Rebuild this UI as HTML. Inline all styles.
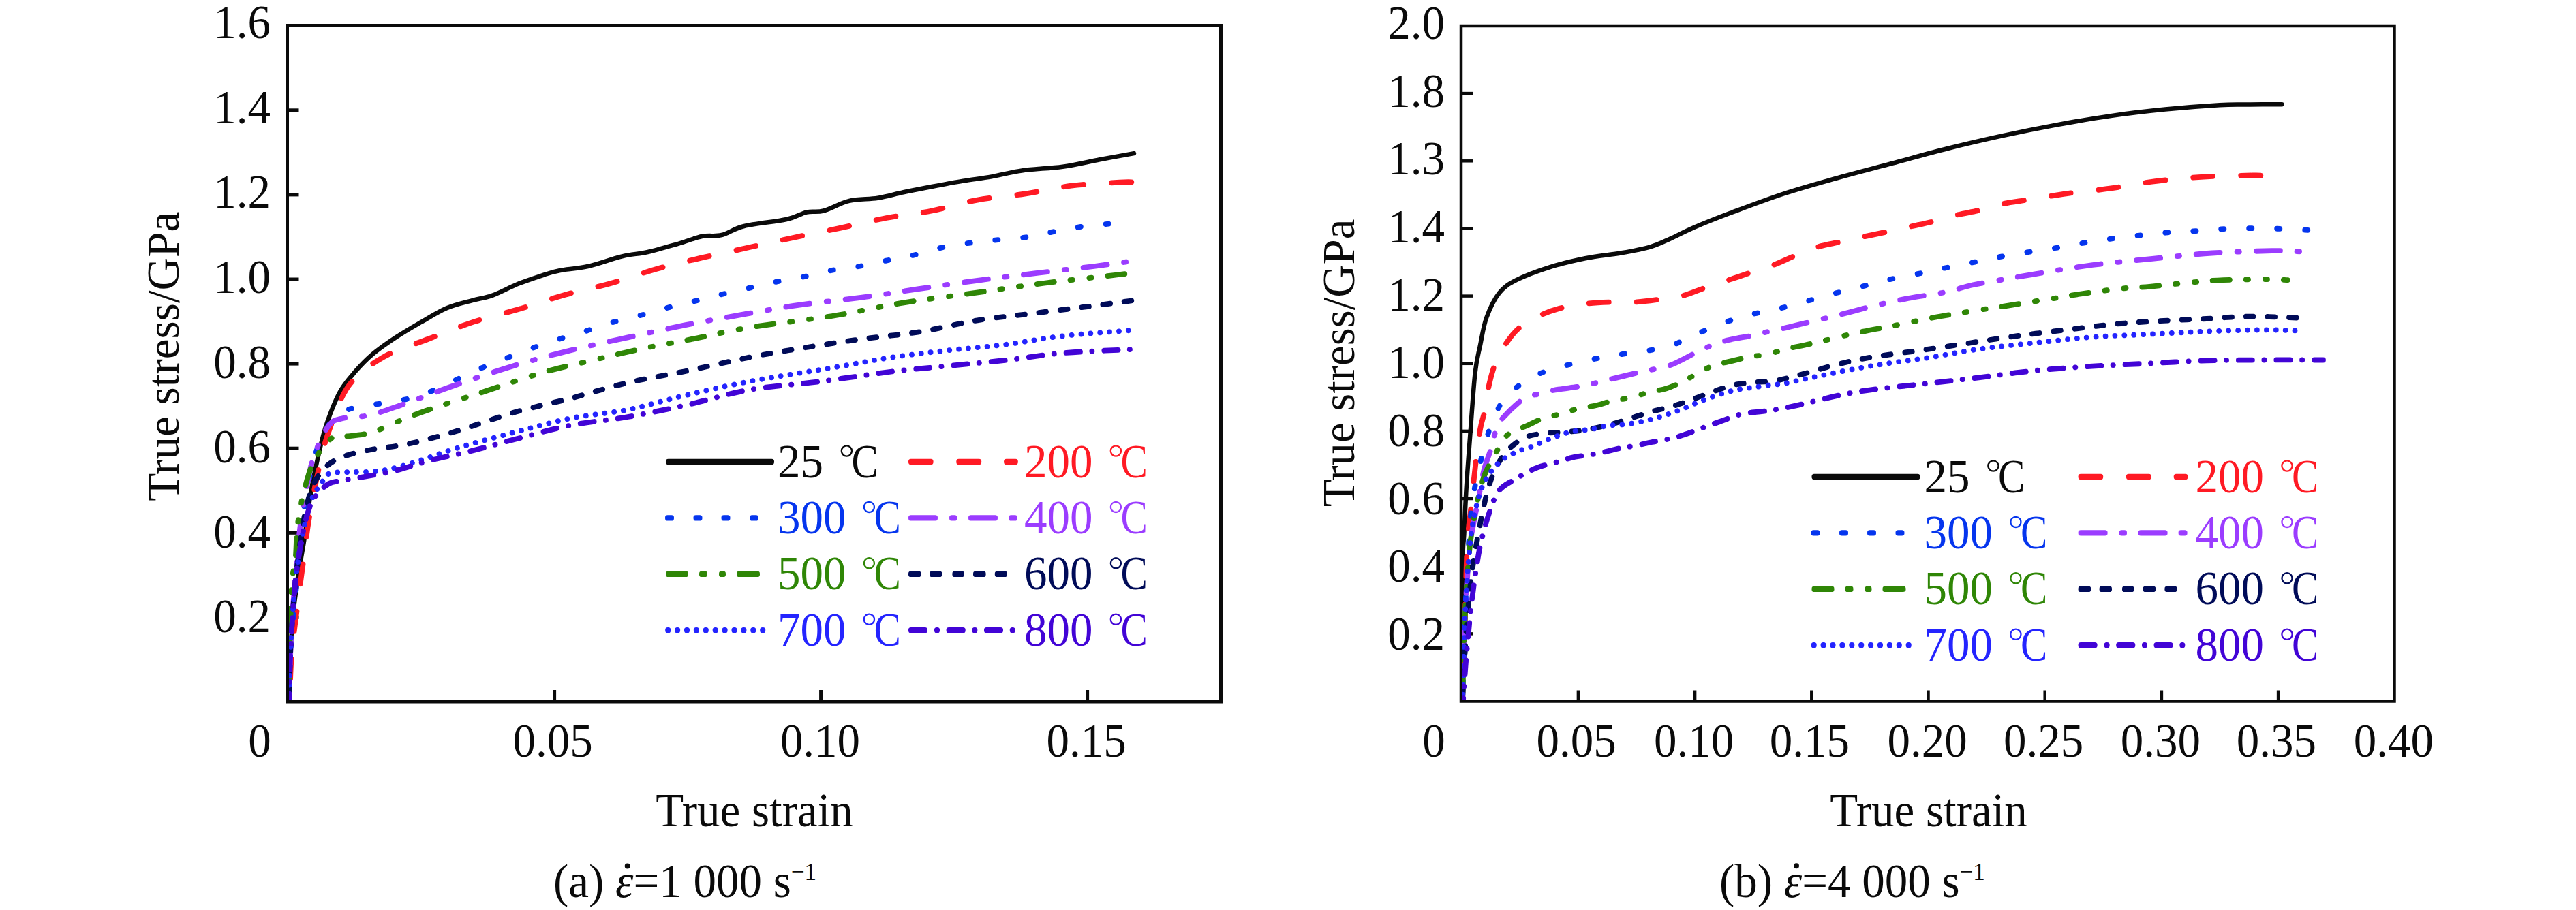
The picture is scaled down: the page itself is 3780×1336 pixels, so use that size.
<!DOCTYPE html>
<html><head><meta charset="utf-8"><style>
html,body{margin:0;padding:0;background:#fff;}
body{width:3780px;height:1336px;overflow:hidden;}
svg{display:block;font-family:"Liberation Serif", serif;}
</style></head><body>
<svg width="3780" height="1336" viewBox="0 0 3780 1336">
<rect width="3780" height="1336" fill="#fff"/>
<rect x="421.5" y="37.5" width="1370.0" height="992.5" fill="none" stroke="#0a0a0a" stroke-width="5"/>
<line x1="421.5" y1="906.4" x2="438.5" y2="906.4" stroke="#0a0a0a" stroke-width="5"/>
<line x1="421.5" y1="782.3" x2="438.5" y2="782.3" stroke="#0a0a0a" stroke-width="5"/>
<line x1="421.5" y1="658.2" x2="438.5" y2="658.2" stroke="#0a0a0a" stroke-width="5"/>
<line x1="421.5" y1="534.1" x2="438.5" y2="534.1" stroke="#0a0a0a" stroke-width="5"/>
<line x1="421.5" y1="410.0" x2="438.5" y2="410.0" stroke="#0a0a0a" stroke-width="5"/>
<line x1="421.5" y1="285.9" x2="438.5" y2="285.9" stroke="#0a0a0a" stroke-width="5"/>
<line x1="421.5" y1="161.8" x2="438.5" y2="161.8" stroke="#0a0a0a" stroke-width="5"/>
<line x1="813.6" y1="1030" x2="813.6" y2="1013" stroke="#0a0a0a" stroke-width="5"/>
<line x1="1204.6" y1="1030" x2="1204.6" y2="1013" stroke="#0a0a0a" stroke-width="5"/>
<line x1="1595.6" y1="1030" x2="1595.6" y2="1013" stroke="#0a0a0a" stroke-width="5"/>
<text x="397.0" y="0" transform="translate(0,928.4) scale(1,1.04)" text-anchor="end" fill="#0a0a0a" font-size="67" >0.2</text>
<text x="397.0" y="0" transform="translate(0,803.8) scale(1,1.04)" text-anchor="end" fill="#0a0a0a" font-size="67" >0.4</text>
<text x="397.0" y="0" transform="translate(0,679.2) scale(1,1.04)" text-anchor="end" fill="#0a0a0a" font-size="67" >0.6</text>
<text x="397.0" y="0" transform="translate(0,554.6) scale(1,1.04)" text-anchor="end" fill="#0a0a0a" font-size="67" >0.8</text>
<text x="397.0" y="0" transform="translate(0,430.0) scale(1,1.04)" text-anchor="end" fill="#0a0a0a" font-size="67" >1.0</text>
<text x="397.0" y="0" transform="translate(0,305.4) scale(1,1.04)" text-anchor="end" fill="#0a0a0a" font-size="67" >1.2</text>
<text x="397.0" y="0" transform="translate(0,180.8) scale(1,1.04)" text-anchor="end" fill="#0a0a0a" font-size="67" >1.4</text>
<text x="397.0" y="0" transform="translate(0,56.2) scale(1,1.04)" text-anchor="end" fill="#0a0a0a" font-size="67" >1.6</text>
<text x="381.0" y="0" transform="translate(0,1111.0) scale(1,1.04)" text-anchor="middle" fill="#0a0a0a" font-size="67" >0</text>
<text x="811.2" y="0" transform="translate(0,1111.0) scale(1,1.04)" text-anchor="middle" fill="#0a0a0a" font-size="67" >0.05</text>
<text x="1203.5" y="0" transform="translate(0,1111.0) scale(1,1.04)" text-anchor="middle" fill="#0a0a0a" font-size="67" >0.10</text>
<text x="1594.1" y="0" transform="translate(0,1111.0) scale(1,1.04)" text-anchor="middle" fill="#0a0a0a" font-size="67" >0.15</text>
<text x="1107.0" y="0" transform="translate(0,1213.0) scale(1,1.04)" text-anchor="middle" fill="#0a0a0a" font-size="67" >True strain</text>
<text x="0" y="0" transform="translate(261.5,523.2) rotate(-90)" text-anchor="middle" fill="#0a0a0a" font-size="67.2">True stress/GPa</text>
<rect x="2144.0" y="38.0" width="1369.5" height="991.5" fill="none" stroke="#0a0a0a" stroke-width="4.5"/>
<line x1="2144" y1="930.4" x2="2161" y2="930.4" stroke="#0a0a0a" stroke-width="4.5"/>
<line x1="2144" y1="831.2" x2="2161" y2="831.2" stroke="#0a0a0a" stroke-width="4.5"/>
<line x1="2144" y1="732.0" x2="2161" y2="732.0" stroke="#0a0a0a" stroke-width="4.5"/>
<line x1="2144" y1="632.9" x2="2161" y2="632.9" stroke="#0a0a0a" stroke-width="4.5"/>
<line x1="2144" y1="533.8" x2="2161" y2="533.8" stroke="#0a0a0a" stroke-width="4.5"/>
<line x1="2144" y1="434.6" x2="2161" y2="434.6" stroke="#0a0a0a" stroke-width="4.5"/>
<line x1="2144" y1="335.4" x2="2161" y2="335.4" stroke="#0a0a0a" stroke-width="4.5"/>
<line x1="2144" y1="236.3" x2="2161" y2="236.3" stroke="#0a0a0a" stroke-width="4.5"/>
<line x1="2144" y1="137.1" x2="2161" y2="137.1" stroke="#0a0a0a" stroke-width="4.5"/>
<line x1="2315.9" y1="1029.5" x2="2315.9" y2="1013.5" stroke="#0a0a0a" stroke-width="4.5"/>
<line x1="2487.1" y1="1029.5" x2="2487.1" y2="1013.5" stroke="#0a0a0a" stroke-width="4.5"/>
<line x1="2658.3" y1="1029.5" x2="2658.3" y2="1013.5" stroke="#0a0a0a" stroke-width="4.5"/>
<line x1="2829.5" y1="1029.5" x2="2829.5" y2="1013.5" stroke="#0a0a0a" stroke-width="4.5"/>
<line x1="3000.7" y1="1029.5" x2="3000.7" y2="1013.5" stroke="#0a0a0a" stroke-width="4.5"/>
<line x1="3171.9" y1="1029.5" x2="3171.9" y2="1013.5" stroke="#0a0a0a" stroke-width="4.5"/>
<line x1="3343.1" y1="1029.5" x2="3343.1" y2="1013.5" stroke="#0a0a0a" stroke-width="4.5"/>
<text x="2120.0" y="0" transform="translate(0,954.0) scale(1,1.04)" text-anchor="end" fill="#0a0a0a" font-size="67" >0.2</text>
<text x="2120.0" y="0" transform="translate(0,854.3) scale(1,1.04)" text-anchor="end" fill="#0a0a0a" font-size="67" >0.4</text>
<text x="2120.0" y="0" transform="translate(0,754.6) scale(1,1.04)" text-anchor="end" fill="#0a0a0a" font-size="67" >0.6</text>
<text x="2120.0" y="0" transform="translate(0,655.0) scale(1,1.04)" text-anchor="end" fill="#0a0a0a" font-size="67" >0.8</text>
<text x="2120.0" y="0" transform="translate(0,555.3) scale(1,1.04)" text-anchor="end" fill="#0a0a0a" font-size="67" >1.0</text>
<text x="2120.0" y="0" transform="translate(0,455.6) scale(1,1.04)" text-anchor="end" fill="#0a0a0a" font-size="67" >1.2</text>
<text x="2120.0" y="0" transform="translate(0,355.9) scale(1,1.04)" text-anchor="end" fill="#0a0a0a" font-size="67" >1.4</text>
<text x="2120.0" y="0" transform="translate(0,256.2) scale(1,1.04)" text-anchor="end" fill="#0a0a0a" font-size="67" >1.3</text>
<text x="2120.0" y="0" transform="translate(0,156.6) scale(1,1.04)" text-anchor="end" fill="#0a0a0a" font-size="67" >1.8</text>
<text x="2120.0" y="0" transform="translate(0,56.9) scale(1,1.04)" text-anchor="end" fill="#0a0a0a" font-size="67" >2.0</text>
<text x="2104.0" y="0" transform="translate(0,1111.0) scale(1,1.04)" text-anchor="middle" fill="#0a0a0a" font-size="67" >0</text>
<text x="2313.1" y="0" transform="translate(0,1111.0) scale(1,1.04)" text-anchor="middle" fill="#0a0a0a" font-size="67" >0.05</text>
<text x="2485.7" y="0" transform="translate(0,1111.0) scale(1,1.04)" text-anchor="middle" fill="#0a0a0a" font-size="67" >0.10</text>
<text x="2655.5" y="0" transform="translate(0,1111.0) scale(1,1.04)" text-anchor="middle" fill="#0a0a0a" font-size="67" >0.15</text>
<text x="2828.1" y="0" transform="translate(0,1111.0) scale(1,1.04)" text-anchor="middle" fill="#0a0a0a" font-size="67" >0.20</text>
<text x="2998.7" y="0" transform="translate(0,1111.0) scale(1,1.04)" text-anchor="middle" fill="#0a0a0a" font-size="67" >0.25</text>
<text x="3170.4" y="0" transform="translate(0,1111.0) scale(1,1.04)" text-anchor="middle" fill="#0a0a0a" font-size="67" >0.30</text>
<text x="3340.3" y="0" transform="translate(0,1111.0) scale(1,1.04)" text-anchor="middle" fill="#0a0a0a" font-size="67" >0.35</text>
<text x="3512.5" y="0" transform="translate(0,1111.0) scale(1,1.04)" text-anchor="middle" fill="#0a0a0a" font-size="67" >0.40</text>
<text x="2830.0" y="0" transform="translate(0,1212.5) scale(1,1.04)" text-anchor="middle" fill="#0a0a0a" font-size="67" >True strain</text>
<text x="0" y="0" transform="translate(1987,532.9) rotate(-90)" text-anchor="middle" fill="#0a0a0a" font-size="66.8">True stress/GPa</text>
<defs><clipPath id="ca"><rect x="424" y="40" width="1365" height="988"/></clipPath><clipPath id="cb"><rect x="2146" y="40" width="1365" height="988"/></clipPath></defs>
<path d="M1664.0,225.1 C1655.6,226.6 1631.2,231.0 1613.8,234.3 C1596.4,237.6 1578.3,242.0 1559.5,244.7 C1540.7,247.3 1518.4,247.8 1501.0,250.2 C1483.6,252.6 1469.6,256.8 1455.0,259.4 C1440.4,262.0 1427.9,263.2 1413.3,265.6 C1398.7,268.0 1381.9,271.2 1367.3,274.0 C1352.7,276.8 1338.8,279.5 1325.6,282.3 C1312.4,285.1 1301.2,288.6 1288.0,290.7 C1274.8,292.8 1259.4,291.8 1246.2,294.9 C1233.0,298.0 1219.0,306.7 1208.6,309.5 C1198.1,312.3 1192.5,309.5 1183.5,311.6 C1174.5,313.7 1169.5,318.6 1154.3,322.0 C1139.0,325.4 1107.9,328.2 1092.0,332.0 C1076.1,335.8 1069.3,342.5 1059.0,345.0 C1048.7,347.5 1040.4,344.9 1030.0,347.0 C1019.6,349.1 1009.6,353.7 996.4,357.5 C983.1,361.3 964.4,366.9 950.5,370.0 C936.6,373.1 927.5,372.8 912.9,376.3 C898.3,379.8 878.1,387.5 862.8,391.0 C847.5,394.5 831.9,395.1 821.0,397.2 C810.1,399.3 807.7,400.4 797.6,403.7 C787.5,407.0 772.7,411.8 760.2,416.8 C747.7,421.8 734.0,429.6 722.8,433.6 C711.6,437.7 704.2,438.0 693.0,441.1 C681.8,444.2 668.1,447.0 655.6,452.3 C643.1,457.6 630.7,465.6 618.2,472.8 C605.8,480.0 592.7,487.5 580.9,495.3 C569.1,503.1 557.3,511.1 547.3,519.5 C537.3,527.9 529.2,536.4 521.1,545.7 C513.0,555.1 505.6,563.2 498.7,575.6 C491.8,588.0 485.0,606.1 480.0,620.4 C475.0,634.7 472.8,644.1 468.8,661.5 C464.8,678.9 459.4,704.0 455.8,725.0 C452.2,746.0 449.7,770.6 447.2,787.3 C444.7,804.0 442.8,812.9 440.9,825.0 C438.9,837.1 437.2,847.5 435.5,860.0 C433.8,872.5 432.0,883.3 430.4,900.0 C428.8,916.7 427.0,938.7 426.0,960.0 C425.0,981.3 424.6,1016.7 424.3,1028.0" fill="none" stroke="#0a0a0a" stroke-width="6.5" stroke-linecap="round" stroke-linejoin="round" clip-path="url(#ca)"/>
<path d="M1664.0,267.5 C1660.5,267.5 1658.3,266.8 1643.0,267.7 C1627.7,268.6 1595.0,269.9 1572.0,272.7 C1549.0,275.5 1528.2,280.9 1505.2,284.4 C1482.2,287.9 1457.2,289.4 1434.2,293.6 C1411.2,297.8 1389.6,305.1 1367.3,309.5 C1345.0,313.9 1322.8,315.8 1300.5,320.0 C1278.2,324.2 1256.7,329.7 1233.7,334.6 C1210.7,339.5 1185.5,344.3 1162.7,349.2 C1139.9,354.1 1118.8,358.9 1096.7,363.8 C1074.6,368.7 1052.2,373.2 1029.9,378.4 C1007.6,383.6 985.3,388.7 963.0,395.0 C940.7,401.3 918.5,409.7 896.2,416.0 C873.9,422.3 851.7,426.4 829.4,432.7 C807.1,439.0 784.8,447.0 762.5,453.6 C740.2,460.2 718.0,465.1 695.7,472.4 C673.4,479.7 651.2,488.8 628.9,497.5 C606.6,506.2 581.5,513.2 562.0,524.6 C542.5,536.0 525.1,548.0 511.9,566.0 C498.7,584.0 490.0,612.6 482.7,632.8 C475.4,653.0 472.9,665.4 468.0,687.0 C463.1,708.6 457.2,739.3 453.4,762.3 C449.6,785.3 447.8,804.1 445.0,825.0 C442.2,845.9 439.5,864.8 436.7,887.6 C433.9,910.4 429.9,938.3 428.0,961.7 C426.1,985.1 425.5,1017.0 425.0,1028.0" fill="none" stroke="#ff1a24" stroke-width="7.8" stroke-linecap="round" stroke-linejoin="round" stroke-dasharray="29.20 40.80" stroke-dashoffset="-3.90" clip-path="url(#ca)"/>
<path d="M1630.5,328.3 C1623.5,329.0 1602.6,330.6 1588.7,332.5 C1574.8,334.4 1560.6,337.4 1547.0,340.0 C1533.4,342.6 1520.9,346.0 1507.3,348.0 C1493.7,350.0 1479.1,350.6 1465.5,352.0 C1451.9,353.4 1439.4,354.5 1425.8,356.3 C1412.2,358.1 1397.9,360.0 1384.0,363.0 C1370.1,366.0 1356.2,370.9 1342.3,374.2 C1328.4,377.5 1314.1,379.8 1300.5,382.6 C1286.9,385.4 1274.4,388.6 1260.8,391.0 C1247.2,393.4 1232.9,394.6 1219.0,397.2 C1205.1,399.8 1190.9,404.0 1177.3,406.8 C1163.7,409.6 1151.0,411.2 1137.6,414.0 C1124.2,416.8 1110.1,420.4 1096.7,423.5 C1083.3,426.6 1070.6,429.4 1057.0,432.7 C1043.4,436.0 1028.8,439.8 1015.2,443.2 C1001.6,446.6 988.7,449.3 975.5,452.8 C962.3,456.3 949.5,460.4 935.9,464.0 C922.3,467.6 907.6,470.5 894.0,474.5 C880.4,478.5 867.6,483.6 854.4,487.8 C841.2,492.0 827.9,495.2 814.7,499.5 C801.5,503.8 787.9,508.5 775.0,513.3 C762.1,518.1 750.0,523.2 737.5,528.2 C725.0,533.2 712.8,537.6 699.9,543.2 C687.0,548.8 673.1,555.9 660.2,561.8 C647.3,567.7 635.5,574.0 622.6,578.5 C609.7,583.0 596.5,586.2 582.9,589.0 C569.3,591.8 554.7,592.4 541.1,595.2 C527.5,598.0 512.6,598.6 501.5,605.6 C490.4,612.6 481.6,623.4 474.3,637.0 C467.0,650.6 462.5,667.5 457.6,687.0 C452.7,706.5 448.8,725.2 445.0,754.0 C441.2,782.8 438.0,827.3 435.0,860.0 C432.0,892.7 428.8,922.0 427.0,950.0 C425.2,978.0 424.5,1015.0 424.0,1028.0" fill="none" stroke="#0535ee" stroke-width="7.8" stroke-linecap="round" stroke-linejoin="round" stroke-dasharray="4.20 36.80" stroke-dashoffset="-3.90" clip-path="url(#ca)"/>
<path d="M1656.0,384.0 C1647.6,385.2 1628.5,388.1 1605.4,391.0 C1582.4,393.9 1546.2,397.9 1517.7,401.4 C1489.2,404.9 1462.8,408.0 1434.2,411.8 C1405.7,415.6 1374.9,420.2 1346.4,424.4 C1317.9,428.6 1291.5,433.1 1263.0,436.9 C1234.5,440.7 1202.4,443.5 1175.2,447.3 C1148.0,451.1 1128.4,454.9 1100.0,459.9 C1071.6,464.9 1034.6,471.5 1004.8,477.4 C975.0,483.3 949.1,489.3 921.3,495.4 C893.4,501.5 865.6,507.3 837.7,514.2 C809.8,521.1 782.5,528.4 754.0,537.0 C725.5,545.6 694.2,556.3 666.4,566.0 C638.6,575.7 607.9,587.9 587.0,595.2 C566.1,602.5 554.9,606.7 541.0,609.8 C527.1,612.9 513.2,611.6 503.5,614.0 C493.8,616.4 489.6,615.7 482.7,624.4 C475.8,633.1 467.0,652.3 461.8,666.2 C456.6,680.1 454.8,690.6 451.3,708.0 C447.8,725.4 443.9,746.9 440.9,770.6 C437.8,794.3 435.3,821.8 433.0,850.0 C430.7,878.2 428.5,910.3 427.0,940.0 C425.5,969.7 424.5,1013.3 424.0,1028.0" fill="none" stroke="#9b3cff" stroke-width="7.8" stroke-linecap="round" stroke-linejoin="round" stroke-dasharray="35.20 24.80 3.20 24.80" stroke-dashoffset="56.10" clip-path="url(#ca)"/>
<path d="M1654.0,401.5 C1651.5,401.8 1659.4,401.1 1638.8,403.5 C1618.2,405.9 1565.7,411.5 1530.2,416.0 C1494.7,420.5 1460.6,425.7 1425.8,430.6 C1391.0,435.5 1355.5,439.6 1321.4,445.2 C1287.3,450.8 1257.9,458.1 1221.0,464.0 C1184.1,469.9 1134.7,475.1 1100.0,480.8 C1065.3,486.5 1039.3,493.1 1013.0,498.3 C986.7,503.5 965.7,506.9 942.0,512.0 C918.3,517.0 895.3,522.8 871.0,528.6 C846.7,534.4 822.4,539.4 796.0,547.0 C769.6,554.6 738.2,565.9 712.4,574.3 C686.6,582.7 660.9,590.7 641.4,597.3 C621.9,603.9 611.4,607.7 595.4,614.0 C579.4,620.3 560.6,630.4 545.3,634.9 C530.0,639.4 513.2,639.7 503.5,641.1 C493.8,642.5 493.8,637.6 486.8,643.2 C479.9,648.8 468.5,662.0 461.8,674.6 C455.1,687.2 450.9,702.7 446.7,718.7 C442.5,734.7 438.9,753.8 436.7,770.6 C434.5,787.4 435.1,805.2 433.6,819.6 C432.2,834.0 429.3,838.6 428.0,857.0 C426.7,875.4 426.7,901.5 426.0,930.0 C425.3,958.5 424.3,1011.7 424.0,1028.0" fill="none" stroke="#2f8606" stroke-width="7.8" stroke-linecap="round" stroke-linejoin="round" stroke-dasharray="25.20 23.80 3.20 24.80 3.20 23.80" stroke-dashoffset="-3.90" clip-path="url(#ca)"/>
<path d="M1664.0,441.0 C1653.5,442.4 1625.6,446.2 1601.2,449.4 C1576.8,452.5 1545.5,456.4 1517.7,459.9 C1489.9,463.4 1462.1,465.8 1434.2,470.3 C1406.3,474.8 1378.5,482.5 1350.6,487.0 C1322.7,491.5 1294.8,493.7 1267.0,497.5 C1239.2,501.3 1211.3,505.5 1183.5,510.0 C1155.7,514.5 1129.8,518.7 1100.0,524.6 C1070.2,530.5 1034.6,539.0 1004.8,545.2 C975.0,551.4 949.1,555.2 921.3,561.8 C893.4,568.4 865.6,577.4 837.7,584.7 C809.9,592.0 782.1,597.6 754.2,605.6 C726.4,613.6 696.4,625.1 670.6,632.8 C644.8,640.5 620.5,647.1 599.6,651.6 C578.7,656.1 561.3,656.9 545.3,660.0 C529.3,663.1 514.6,666.2 503.5,670.4 C492.4,674.6 485.4,678.7 478.5,685.0 C471.6,691.3 466.3,699.3 461.8,708.0 C457.3,716.7 454.4,725.2 451.3,737.2 C448.2,749.2 445.9,761.2 443.0,780.0 C440.1,798.8 436.7,823.3 434.0,850.0 C431.3,876.7 428.7,910.3 427.0,940.0 C425.3,969.7 424.5,1013.3 424.0,1028.0" fill="none" stroke="#000b58" stroke-width="7.8" stroke-linecap="round" stroke-linejoin="round" stroke-dasharray="10.70 20.80" stroke-dashoffset="-3.90" clip-path="url(#ca)"/>
<path d="M1659.7,485.0 C1643.0,486.4 1590.1,489.8 1559.5,493.3 C1528.9,496.8 1503.8,502.3 1475.9,505.8 C1448.1,509.3 1420.2,511.1 1392.4,514.2 C1364.6,517.3 1336.8,520.4 1308.9,524.6 C1281.1,528.8 1260.1,533.3 1225.3,539.2 C1190.5,545.1 1136.8,553.1 1100.0,560.0 C1063.2,566.9 1034.6,573.7 1004.8,580.6 C975.0,587.5 949.1,595.9 921.3,601.5 C893.4,607.1 865.6,608.4 837.7,614.0 C809.9,619.6 782.1,627.6 754.2,634.9 C726.4,642.2 695.0,650.5 670.6,657.8 C646.2,665.1 626.8,673.1 608.0,678.7 C589.2,684.3 575.2,688.9 557.8,691.3 C540.4,693.7 516.0,692.6 503.5,693.3 C491.0,694.0 488.3,692.3 482.7,695.4 C477.1,698.5 474.2,705.7 470.0,712.0 C465.8,718.3 461.8,721.7 457.6,733.0 C453.4,744.3 448.9,760.5 445.0,780.0 C441.1,799.5 437.0,823.3 434.0,850.0 C431.0,876.7 428.7,910.3 427.0,940.0 C425.3,969.7 424.5,1013.3 424.0,1028.0" fill="none" stroke="#2424ff" stroke-width="7.8" stroke-linecap="round" stroke-linejoin="round" stroke-dasharray="0.01 13.90" stroke-dashoffset="-3.90" clip-path="url(#ca)"/>
<path d="M1661.8,512.9 C1644.8,513.8 1590.5,515.6 1559.5,518.3 C1528.5,520.9 1503.8,525.7 1475.9,528.8 C1448.1,531.9 1420.2,534.3 1392.4,537.1 C1364.6,539.9 1340.2,541.7 1308.9,545.5 C1277.6,549.3 1239.2,555.5 1204.4,560.0 C1169.6,564.5 1133.3,566.3 1100.0,572.2 C1066.7,578.1 1034.6,588.6 1004.8,595.2 C975.0,601.8 949.1,607.1 921.3,612.0 C893.4,616.9 865.6,618.9 837.7,624.4 C809.9,629.9 778.6,639.0 754.2,645.3 C729.8,651.6 712.4,656.8 691.5,662.0 C670.6,667.2 647.7,671.7 628.9,676.6 C610.1,681.5 596.1,687.1 578.7,691.3 C561.3,695.5 537.6,699.3 524.4,701.7 C511.2,704.1 506.3,704.5 499.4,705.9 C492.4,707.3 488.3,706.9 482.7,710.0 C477.1,713.1 470.5,719.5 466.0,724.7 C461.5,729.9 459.0,732.2 455.5,741.4 C452.0,750.6 448.6,761.9 445.0,780.0 C441.4,798.1 437.0,823.3 434.0,850.0 C431.0,876.7 428.7,910.3 427.0,940.0 C425.3,969.7 424.5,1013.3 424.0,1028.0" fill="none" stroke="#4204d6" stroke-width="7.8" stroke-linecap="round" stroke-linejoin="round" stroke-dasharray="20.20 17.80 0.20 17.30" stroke-dashoffset="34.10" clip-path="url(#ca)"/>
<path d="M3348.4,153.2 C3340.3,153.2 3315.2,153.3 3300.0,153.5 C3284.8,153.7 3277.5,153.0 3257.0,154.2 C3236.5,155.4 3203.8,157.9 3177.2,160.6 C3150.6,163.2 3124.0,166.3 3097.4,170.1 C3070.8,173.9 3044.3,178.5 3017.7,183.4 C2991.1,188.3 2964.5,193.6 2937.9,199.4 C2911.3,205.2 2884.7,211.3 2858.1,218.0 C2831.5,224.7 2804.9,232.2 2778.3,239.3 C2751.7,246.4 2725.1,253.2 2698.5,260.6 C2671.9,268.1 2645.3,275.3 2618.7,284.0 C2592.1,292.7 2561.1,304.5 2538.9,312.8 C2516.7,321.1 2500.2,327.8 2485.7,334.0 C2471.2,340.2 2462.6,345.3 2452.0,350.0 C2441.4,354.7 2434.0,358.8 2421.9,362.3 C2409.8,365.9 2395.4,368.5 2379.4,371.3 C2363.4,374.1 2343.9,375.8 2326.2,379.3 C2308.5,382.9 2289.8,387.3 2273.0,392.6 C2256.2,397.9 2237.3,405.0 2225.1,411.2 C2212.9,417.4 2207.3,420.9 2200.0,430.0 C2192.7,439.1 2186.1,453.2 2181.4,466.0 C2176.7,478.8 2174.8,493.3 2172.0,507.0 C2169.2,520.7 2167.0,525.7 2164.5,548.1 C2162.0,570.5 2159.3,612.9 2157.1,641.5 C2154.9,670.1 2152.9,696.2 2151.5,720.0 C2150.1,743.8 2149.3,765.9 2148.4,784.2 C2147.5,802.5 2146.7,789.4 2146.3,830.0 C2145.9,870.6 2146.1,995.0 2146.0,1028.0" fill="none" stroke="#0a0a0a" stroke-width="6.5" stroke-linecap="round" stroke-linejoin="round" clip-path="url(#cb)"/>
<path d="M3321.2,258.0 C3318.4,257.9 3319.1,257.2 3304.5,257.5 C3289.9,257.8 3257.2,258.2 3233.5,259.6 C3209.8,261.1 3185.5,263.4 3162.5,266.2 C3139.5,269.0 3115.7,273.9 3095.7,276.7 C3075.7,279.5 3057.1,281.0 3042.7,282.9 C3028.2,284.8 3020.2,286.1 3009.0,287.8 C2997.8,289.6 2986.9,291.5 2975.4,293.4 C2963.9,295.3 2951.4,296.5 2939.9,299.0 C2928.4,301.5 2917.8,305.5 2906.3,308.3 C2894.8,311.1 2882.3,313.0 2870.8,315.8 C2859.3,318.6 2848.4,322.3 2837.2,325.1 C2826.0,327.9 2814.8,330.1 2803.6,332.6 C2792.4,335.1 2781.5,337.6 2770.0,340.1 C2758.5,342.6 2746.0,345.1 2734.5,347.6 C2723.0,350.1 2712.1,352.5 2700.9,355.0 C2689.7,357.5 2678.4,359.1 2667.2,362.5 C2656.0,365.9 2644.5,371.1 2633.6,375.6 C2622.7,380.1 2612.5,385.2 2601.6,389.3 C2590.7,393.4 2579.2,396.8 2568.0,400.5 C2556.8,404.2 2545.6,408.1 2534.4,411.8 C2523.2,415.6 2511.6,419.3 2500.7,423.0 C2489.8,426.7 2480.2,431.4 2469.0,434.2 C2457.8,437.0 2445.0,438.2 2433.5,439.8 C2422.0,441.4 2411.4,442.9 2399.9,443.5 C2388.4,444.1 2375.9,443.2 2364.4,443.5 C2352.9,443.8 2342.3,444.1 2330.8,445.4 C2319.3,446.6 2306.8,448.2 2295.3,451.0 C2283.8,453.8 2272.6,457.2 2261.7,462.2 C2250.8,467.2 2238.6,473.8 2229.9,480.9 C2221.2,488.0 2215.3,496.4 2209.4,505.1 C2203.5,513.8 2198.5,523.2 2194.4,533.2 C2190.3,543.2 2187.6,553.7 2185.1,564.9 C2182.6,576.1 2181.7,589.5 2179.5,600.4 C2177.3,611.3 2174.4,616.4 2172.0,630.3 C2169.6,644.2 2167.2,665.3 2165.0,684.0 C2162.8,702.7 2160.8,723.1 2158.8,742.4 C2156.8,761.7 2154.5,773.7 2153.0,800.0 C2151.5,826.3 2151.0,862.0 2150.0,900.0 C2149.0,938.0 2147.5,1006.7 2147.0,1028.0" fill="none" stroke="#ff1a24" stroke-width="7.8" stroke-linecap="round" stroke-linejoin="round" stroke-dasharray="29.20 40.80" stroke-dashoffset="-3.90" clip-path="url(#cb)"/>
<path d="M3390.2,338.0 C3383.2,337.7 3362.3,336.5 3348.4,336.0 C3334.5,335.5 3320.5,335.2 3306.6,335.2 C3292.7,335.2 3278.8,335.4 3264.9,336.0 C3251.0,336.6 3236.9,338.1 3223.0,339.0 C3209.1,339.9 3195.2,340.3 3181.3,341.4 C3167.4,342.5 3153.4,344.1 3139.5,345.6 C3125.6,347.1 3111.7,348.7 3097.8,350.6 C3083.9,352.5 3069.9,354.6 3056.0,356.9 C3042.1,359.2 3028.1,362.1 3014.2,364.4 C3000.3,366.7 2986.4,368.5 2972.5,370.7 C2958.6,372.9 2944.3,375.2 2930.7,377.8 C2917.1,380.4 2904.6,383.3 2891.0,386.1 C2877.4,388.9 2862.6,391.7 2849.2,394.5 C2835.8,397.3 2823.8,400.0 2810.4,402.8 C2797.0,405.6 2782.2,408.1 2768.6,411.2 C2755.0,414.3 2742.6,418.1 2729.0,421.6 C2715.4,425.1 2701.1,428.3 2687.2,432.0 C2673.3,435.7 2659.0,440.1 2645.4,443.8 C2631.8,447.5 2618.9,451.1 2605.7,454.2 C2592.5,457.3 2579.2,459.0 2566.0,462.5 C2552.8,466.0 2539.6,470.1 2526.4,475.0 C2513.2,479.9 2499.6,486.2 2486.7,491.8 C2473.8,497.4 2462.0,504.5 2449.1,508.5 C2436.2,512.5 2423.0,513.8 2409.4,516.0 C2395.8,518.2 2381.2,519.6 2367.6,521.8 C2354.0,524.0 2341.6,526.4 2328.0,529.4 C2314.4,532.4 2299.8,535.6 2286.2,539.8 C2272.6,544.0 2259.0,547.4 2246.5,554.4 C2234.0,561.4 2220.1,571.9 2211.0,581.6 C2201.9,591.4 2197.4,601.4 2192.2,612.9 C2187.0,624.4 2183.5,637.3 2179.7,650.5 C2175.9,663.7 2172.5,677.4 2169.2,692.3 C2165.9,707.2 2162.4,722.0 2160.0,740.0 C2157.6,758.0 2156.7,773.3 2155.0,800.0 C2153.3,826.7 2151.5,862.0 2150.0,900.0 C2148.5,938.0 2146.7,1006.7 2146.0,1028.0" fill="none" stroke="#0535ee" stroke-width="7.8" stroke-linecap="round" stroke-linejoin="round" stroke-dasharray="4.20 36.80" stroke-dashoffset="-3.90" clip-path="url(#cb)"/>
<path d="M3377.6,369.4 C3370.3,369.2 3355.7,367.8 3333.8,368.2 C3311.9,368.6 3275.2,369.6 3246.0,371.5 C3216.8,373.4 3187.5,377.0 3158.3,379.9 C3129.1,382.8 3099.8,385.2 3070.6,389.0 C3041.4,392.8 3004.6,399.3 2983.0,402.8 C2961.4,406.3 2955.7,407.4 2941.1,410.0 C2926.5,412.6 2909.8,415.1 2895.2,418.3 C2880.6,421.5 2869.3,425.9 2853.4,429.2 C2837.5,432.5 2817.2,434.7 2800.0,438.0 C2782.8,441.3 2766.7,445.0 2750.0,449.0 C2733.3,453.0 2716.7,457.8 2700.0,462.0 C2683.3,466.2 2662.9,470.9 2650.0,474.0 C2637.1,477.1 2631.3,478.8 2622.3,480.9 C2613.3,483.0 2604.3,484.6 2596.2,486.5 C2588.1,488.4 2584.1,489.9 2573.8,492.1 C2563.5,494.3 2544.9,497.0 2534.6,499.5 C2524.3,502.0 2519.8,503.9 2512.0,507.0 C2504.2,510.1 2497.4,513.5 2487.7,518.2 C2478.0,522.9 2463.7,531.1 2454.0,535.0 C2444.3,538.9 2437.6,539.5 2429.8,541.4 C2422.0,543.3 2417.7,543.8 2407.4,546.2 C2397.1,548.6 2378.4,553.1 2368.1,555.6 C2357.8,558.1 2353.5,559.3 2345.7,561.2 C2337.9,563.1 2332.0,564.9 2321.4,566.8 C2310.8,568.7 2292.5,570.5 2282.2,572.4 C2271.9,574.3 2267.6,575.8 2259.8,578.0 C2252.0,580.2 2244.8,579.3 2235.5,585.5 C2226.2,591.7 2210.7,607.2 2203.8,615.3 C2197.0,623.4 2196.9,627.1 2194.4,634.0 C2191.9,640.9 2191.6,647.1 2188.8,656.4 C2186.0,665.7 2180.9,677.1 2177.6,690.0 C2174.3,702.9 2171.8,720.7 2169.2,734.0 C2166.6,747.3 2164.2,757.3 2162.0,770.0 C2159.8,782.7 2158.0,788.3 2156.0,810.0 C2154.0,831.7 2151.7,863.7 2150.0,900.0 C2148.3,936.3 2146.7,1006.7 2146.0,1028.0" fill="none" stroke="#9b3cff" stroke-width="7.8" stroke-linecap="round" stroke-linejoin="round" stroke-dasharray="35.20 24.80 3.20 24.80" stroke-dashoffset="56.10" clip-path="url(#cb)"/>
<path d="M3356.8,411.2 C3351.9,411.0 3343.2,410.0 3327.5,410.0 C3311.8,410.0 3280.6,410.5 3262.8,411.2 C3245.1,411.9 3239.1,412.5 3221.0,414.1 C3202.9,415.7 3172.3,419.2 3154.2,420.8 C3136.1,422.4 3129.8,421.8 3112.4,423.7 C3095.0,425.6 3066.4,429.6 3049.7,432.0 C3033.0,434.4 3029.6,435.5 3012.2,438.3 C2994.8,441.1 2967.6,445.3 2945.3,448.8 C2923.0,452.3 2897.7,456.1 2878.5,459.2 C2859.3,462.3 2846.4,464.5 2830.0,467.6 C2813.6,470.7 2797.5,474.5 2780.0,478.0 C2762.5,481.5 2744.8,484.3 2724.8,488.6 C2704.8,492.9 2677.4,500.0 2660.0,504.0 C2642.6,508.0 2631.3,509.9 2620.3,512.6 C2609.3,515.3 2602.8,518.2 2594.1,520.1 C2585.4,522.0 2576.4,522.2 2568.0,523.8 C2559.6,525.3 2552.7,527.2 2543.7,529.4 C2534.7,531.6 2522.5,533.8 2513.8,536.9 C2505.1,540.0 2499.2,544.0 2491.4,548.1 C2483.6,552.2 2474.9,557.5 2467.1,561.2 C2459.3,564.9 2452.8,568.0 2444.7,570.5 C2436.6,573.0 2427.0,573.9 2418.6,576.1 C2410.2,578.3 2403.0,581.6 2394.3,583.6 C2385.6,585.6 2374.7,586.5 2366.3,588.4 C2357.9,590.3 2352.6,592.8 2343.9,594.8 C2335.2,596.8 2322.7,598.3 2314.0,600.4 C2305.3,602.5 2300.0,604.7 2291.6,607.1 C2283.2,609.5 2271.9,611.7 2263.5,614.6 C2255.1,617.5 2249.5,620.9 2241.1,624.7 C2232.7,628.6 2219.9,632.4 2213.1,637.7 C2206.2,643.0 2204.3,649.5 2200.0,656.4 C2195.7,663.3 2191.0,670.8 2187.0,678.9 C2183.0,687.0 2179.5,693.0 2175.8,705.0 C2172.1,717.0 2168.3,733.3 2165.0,750.8 C2161.7,768.3 2158.5,785.1 2156.0,810.0 C2153.5,834.9 2151.7,863.7 2150.0,900.0 C2148.3,936.3 2146.7,1006.7 2146.0,1028.0" fill="none" stroke="#2f8606" stroke-width="7.8" stroke-linecap="round" stroke-linejoin="round" stroke-dasharray="25.20 23.80 3.20 24.80 3.20 23.80" stroke-dashoffset="19.10" clip-path="url(#cb)"/>
<path d="M3373.5,466.7 C3361.3,466.4 3323.0,464.4 3300.4,464.6 C3277.8,464.8 3258.6,466.9 3237.7,468.0 C3216.8,469.1 3195.9,469.7 3175.0,470.9 C3154.1,472.1 3134.0,473.1 3112.4,475.0 C3090.8,476.9 3066.5,480.2 3045.6,482.6 C3024.7,485.1 3003.7,487.6 2987.0,489.7 C2970.3,491.8 2961.3,492.8 2945.3,495.1 C2929.3,497.4 2910.2,500.6 2891.0,503.5 C2871.8,506.4 2857.7,508.6 2830.0,512.7 C2802.3,516.8 2756.2,522.0 2724.8,528.3 C2693.4,534.6 2660.9,545.2 2641.3,550.3 C2621.7,555.3 2617.8,556.8 2607.2,558.6 C2596.5,560.4 2587.7,560.2 2577.4,561.2 C2567.1,562.2 2555.9,562.7 2545.6,564.9 C2535.3,567.1 2525.7,570.8 2515.7,574.2 C2505.7,577.6 2495.8,581.9 2485.8,585.5 C2475.9,589.1 2466.3,592.8 2456.0,595.9 C2445.7,599.0 2434.5,601.2 2424.2,604.1 C2413.9,607.0 2404.3,610.4 2394.3,613.5 C2384.3,616.6 2375.0,620.0 2364.4,622.8 C2353.8,625.6 2341.4,628.4 2330.8,630.3 C2320.2,632.2 2310.9,633.1 2300.9,634.0 C2290.9,634.9 2281.3,634.6 2271.0,635.9 C2260.7,637.1 2249.0,637.5 2239.3,641.5 C2229.7,645.5 2220.3,653.0 2213.1,660.2 C2205.9,667.4 2201.0,675.8 2196.3,684.5 C2191.6,693.2 2188.2,703.2 2185.1,712.5 C2182.0,721.8 2180.7,728.0 2178.0,740.0 C2175.3,752.0 2172.2,767.5 2169.2,784.2 C2166.2,800.9 2162.9,817.4 2160.0,840.0 C2157.1,862.6 2154.3,888.7 2152.0,920.0 C2149.7,951.3 2147.0,1010.0 2146.0,1028.0" fill="none" stroke="#000b58" stroke-width="7.8" stroke-linecap="round" stroke-linejoin="round" stroke-dasharray="10.70 20.80" stroke-dashoffset="-3.90" clip-path="url(#cb)"/>
<path d="M3371.4,485.5 C3363.0,485.3 3343.5,484.2 3321.2,484.4 C3298.9,484.6 3265.5,485.4 3237.7,486.5 C3209.9,487.6 3182.0,489.3 3154.2,490.7 C3126.3,492.1 3098.5,492.8 3070.6,494.9 C3042.7,497.0 3014.8,500.2 2987.0,503.2 C2959.2,506.1 2929.7,509.0 2903.5,512.6 C2877.3,516.2 2850.6,521.9 2830.0,525.1 C2809.4,528.3 2797.5,529.4 2780.0,532.0 C2762.5,534.6 2744.8,537.3 2724.8,541.0 C2704.8,544.7 2677.7,550.3 2660.0,554.0 C2642.3,557.7 2628.5,561.2 2618.4,563.0 C2608.3,564.8 2607.2,564.0 2599.7,564.9 C2592.2,565.8 2582.3,567.4 2573.6,568.6 C2564.9,569.9 2556.1,570.5 2547.4,572.4 C2538.7,574.3 2530.0,577.1 2521.3,579.9 C2512.6,582.7 2503.8,585.8 2495.1,589.2 C2486.4,592.6 2477.7,597.0 2469.0,600.4 C2460.3,603.8 2451.6,606.9 2442.9,609.7 C2434.2,612.5 2426.0,615.0 2416.7,617.2 C2407.3,619.4 2396.1,621.5 2386.8,622.8 C2377.5,624.0 2369.4,623.5 2360.7,624.7 C2352.0,626.0 2343.8,628.8 2334.5,630.3 C2325.2,631.8 2314.2,631.8 2304.6,634.0 C2294.9,636.2 2285.6,640.0 2276.6,643.4 C2267.6,646.8 2259.2,651.1 2250.5,654.5 C2241.8,657.9 2232.7,659.8 2224.3,663.9 C2215.9,668.0 2207.8,671.4 2200.0,678.9 C2192.2,686.4 2183.4,696.9 2177.6,708.7 C2171.8,720.6 2168.4,734.8 2165.0,750.0 C2161.6,765.2 2159.5,775.0 2157.0,800.0 C2154.5,825.0 2151.8,862.0 2150.0,900.0 C2148.2,938.0 2146.7,1006.7 2146.0,1028.0" fill="none" stroke="#2424ff" stroke-width="7.8" stroke-linecap="round" stroke-linejoin="round" stroke-dasharray="0.01 13.90" stroke-dashoffset="-3.90" clip-path="url(#cb)"/>
<path d="M3409.0,528.5 C3394.4,528.5 3349.8,528.4 3321.2,528.5 C3292.6,528.6 3265.5,528.6 3237.7,529.4 C3209.9,530.2 3182.0,532.1 3154.2,533.5 C3126.3,534.9 3098.5,536.0 3070.6,537.7 C3042.7,539.5 3014.8,541.2 2987.0,544.0 C2959.2,546.8 2929.7,551.3 2903.5,554.4 C2877.3,557.5 2859.8,559.3 2830.0,562.8 C2800.2,566.3 2756.2,570.1 2724.8,575.3 C2693.4,580.5 2660.3,589.9 2641.3,594.1 C2622.3,598.3 2620.3,598.7 2610.9,600.4 C2601.5,602.1 2594.1,602.9 2584.8,604.1 C2575.5,605.4 2564.3,605.7 2555.0,607.9 C2545.7,610.1 2537.5,614.1 2528.8,617.2 C2520.1,620.3 2511.9,623.2 2502.6,626.6 C2493.2,630.0 2480.8,634.9 2472.7,637.7 C2464.6,640.5 2462.1,641.5 2454.0,643.4 C2445.9,645.3 2433.5,647.1 2424.2,649.0 C2414.9,650.9 2406.1,653.1 2398.0,654.6 C2389.9,656.1 2384.6,656.4 2375.6,658.3 C2366.6,660.2 2355.1,663.6 2343.9,665.8 C2332.7,668.0 2317.4,669.5 2308.4,671.4 C2299.4,673.3 2298.4,674.5 2289.7,677.0 C2281.0,679.5 2264.8,683.2 2256.1,686.3 C2247.4,689.4 2243.3,692.6 2237.4,695.7 C2231.5,698.8 2226.8,701.0 2220.6,705.0 C2214.4,709.0 2205.8,712.4 2200.0,720.0 C2194.2,727.6 2190.8,736.6 2186.0,750.8 C2181.2,765.0 2175.6,783.5 2171.3,805.0 C2167.0,826.5 2163.2,854.2 2160.0,880.0 C2156.8,905.8 2154.2,935.3 2152.0,960.0 C2149.8,984.7 2147.8,1016.7 2147.0,1028.0" fill="none" stroke="#4204d6" stroke-width="7.8" stroke-linecap="round" stroke-linejoin="round" stroke-dasharray="20.20 17.80 0.20 17.30" stroke-dashoffset="7.10" clip-path="url(#cb)"/>
<rect x="977.0" y="673.8" width="159.0" height="8.4" rx="3.6" fill="#0a0a0a"/>
<text x="1141.0" y="0" transform="translate(0,700.5) scale(1,1.04)" text-anchor="start" fill="#0a0a0a" font-size="67" >25</text>
<circle cx="1242.4" cy="662.0" r="7.6" fill="none" stroke="#0a0a0a" stroke-width="2.3"/>
<text x="0" y="0" transform="translate(1249.5,700.5) scale(0.88,1.04)" fill="#0a0a0a" font-size="67">C</text>
<rect x="1333.0" y="673.8" width="36.6" height="8.4" rx="3.6" fill="#ff1a24"/>
<rect x="1403.3" y="673.8" width="36.9" height="8.4" rx="3.6" fill="#ff1a24"/>
<rect x="1473.1" y="673.8" width="20.7" height="8.4" rx="3.6" fill="#ff1a24"/>
<text x="1503.0" y="0" transform="translate(0,700.5) scale(1,1.04)" text-anchor="start" fill="#ff1a24" font-size="67" >200</text>
<circle cx="1637.4" cy="662.0" r="7.6" fill="none" stroke="#ff1a24" stroke-width="2.3"/>
<text x="0" y="0" transform="translate(1644.5,700.5) scale(0.88,1.04)" fill="#ff1a24" font-size="67">C</text>
<rect x="976.0" y="756.2" width="13.0" height="8.4" rx="3.6" fill="#0535ee"/>
<rect x="1017.5" y="756.2" width="13.0" height="8.4" rx="3.6" fill="#0535ee"/>
<rect x="1058.5" y="756.2" width="13.0" height="8.4" rx="3.6" fill="#0535ee"/>
<rect x="1100.0" y="756.2" width="13.0" height="8.4" rx="3.6" fill="#0535ee"/>
<text x="1141.0" y="0" transform="translate(0,782.9) scale(1,1.04)" text-anchor="start" fill="#0535ee" font-size="67" >300</text>
<circle cx="1275.4" cy="744.4" r="7.6" fill="none" stroke="#0535ee" stroke-width="2.3"/>
<text x="0" y="0" transform="translate(1282.5,782.9) scale(0.88,1.04)" fill="#0535ee" font-size="67">C</text>
<rect x="1333.0" y="756.2" width="43.0" height="8.4" rx="3.6" fill="#9b3cff"/>
<rect x="1393.0" y="756.2" width="11.4" height="8.4" rx="3.6" fill="#9b3cff"/>
<rect x="1421.0" y="756.2" width="43.0" height="8.4" rx="3.6" fill="#9b3cff"/>
<rect x="1480.0" y="756.2" width="13.0" height="8.4" rx="3.6" fill="#9b3cff"/>
<text x="1503.0" y="0" transform="translate(0,782.9) scale(1,1.04)" text-anchor="start" fill="#9b3cff" font-size="67" >400</text>
<circle cx="1637.4" cy="744.4" r="7.6" fill="none" stroke="#9b3cff" stroke-width="2.3"/>
<text x="0" y="0" transform="translate(1644.5,782.9) scale(0.88,1.04)" fill="#9b3cff" font-size="67">C</text>
<rect x="977.0" y="838.6" width="33.0" height="8.4" rx="3.6" fill="#2f8606"/>
<rect x="1026.0" y="838.6" width="12.0" height="8.4" rx="3.6" fill="#2f8606"/>
<rect x="1055.0" y="838.6" width="10.0" height="8.4" rx="3.6" fill="#2f8606"/>
<rect x="1081.0" y="838.6" width="34.0" height="8.4" rx="3.6" fill="#2f8606"/>
<text x="1141.0" y="0" transform="translate(0,865.3) scale(1,1.04)" text-anchor="start" fill="#2f8606" font-size="67" >500</text>
<circle cx="1275.4" cy="826.8" r="7.6" fill="none" stroke="#2f8606" stroke-width="2.3"/>
<text x="0" y="0" transform="translate(1282.5,865.3) scale(0.88,1.04)" fill="#2f8606" font-size="67">C</text>
<rect x="1333.0" y="838.6" width="18.6" height="8.4" rx="3.6" fill="#000b58"/>
<rect x="1364.0" y="838.6" width="18.4" height="8.4" rx="3.6" fill="#000b58"/>
<rect x="1397.4" y="838.6" width="17.6" height="8.4" rx="3.6" fill="#000b58"/>
<rect x="1428.0" y="838.6" width="18.6" height="8.4" rx="3.6" fill="#000b58"/>
<rect x="1459.8" y="838.6" width="18.2" height="8.4" rx="3.6" fill="#000b58"/>
<text x="1503.0" y="0" transform="translate(0,865.3) scale(1,1.04)" text-anchor="start" fill="#000b58" font-size="67" >600</text>
<circle cx="1637.4" cy="826.8" r="7.6" fill="none" stroke="#000b58" stroke-width="2.3"/>
<text x="0" y="0" transform="translate(1644.5,865.3) scale(0.88,1.04)" fill="#000b58" font-size="67">C</text>
<rect x="976.2" y="921.0" width="8.0" height="8.4" rx="3.6" fill="#2424ff"/>
<rect x="990.1" y="921.0" width="8.0" height="8.4" rx="3.6" fill="#2424ff"/>
<rect x="1004.0" y="921.0" width="8.0" height="8.4" rx="3.6" fill="#2424ff"/>
<rect x="1017.9" y="921.0" width="8.0" height="8.4" rx="3.6" fill="#2424ff"/>
<rect x="1031.8" y="921.0" width="8.0" height="8.4" rx="3.6" fill="#2424ff"/>
<rect x="1045.7" y="921.0" width="8.0" height="8.4" rx="3.6" fill="#2424ff"/>
<rect x="1059.6" y="921.0" width="8.0" height="8.4" rx="3.6" fill="#2424ff"/>
<rect x="1073.5" y="921.0" width="8.0" height="8.4" rx="3.6" fill="#2424ff"/>
<rect x="1087.4" y="921.0" width="8.0" height="8.4" rx="3.6" fill="#2424ff"/>
<rect x="1101.3" y="921.0" width="8.0" height="8.4" rx="3.6" fill="#2424ff"/>
<rect x="1115.2" y="921.0" width="8.0" height="8.4" rx="3.6" fill="#2424ff"/>
<text x="1141.0" y="0" transform="translate(0,947.7) scale(1,1.04)" text-anchor="start" fill="#2424ff" font-size="67" >700</text>
<circle cx="1275.4" cy="909.2" r="7.6" fill="none" stroke="#2424ff" stroke-width="2.3"/>
<text x="0" y="0" transform="translate(1282.5,947.7) scale(0.88,1.04)" fill="#2424ff" font-size="67">C</text>
<rect x="1333.0" y="921.0" width="28.0" height="8.4" rx="3.6" fill="#4204d6"/>
<rect x="1371.0" y="921.0" width="8.0" height="8.4" rx="3.6" fill="#4204d6"/>
<rect x="1388.6" y="921.0" width="28.1" height="8.4" rx="3.6" fill="#4204d6"/>
<rect x="1426.4" y="921.0" width="7.9" height="8.4" rx="3.6" fill="#4204d6"/>
<rect x="1444.0" y="921.0" width="28.0" height="8.4" rx="3.6" fill="#4204d6"/>
<rect x="1481.8" y="921.0" width="7.9" height="8.4" rx="3.6" fill="#4204d6"/>
<text x="1503.0" y="0" transform="translate(0,947.7) scale(1,1.04)" text-anchor="start" fill="#4204d6" font-size="67" >800</text>
<circle cx="1637.4" cy="909.2" r="7.6" fill="none" stroke="#4204d6" stroke-width="2.3"/>
<text x="0" y="0" transform="translate(1644.5,947.7) scale(0.88,1.04)" fill="#4204d6" font-size="67">C</text>
<rect x="2658.5" y="695.8" width="159.0" height="8.4" rx="3.6" fill="#0a0a0a"/>
<text x="2823.5" y="0" transform="translate(0,722.5) scale(1,1.04)" text-anchor="start" fill="#0a0a0a" font-size="67" >25</text>
<circle cx="2924.9" cy="684.0" r="7.6" fill="none" stroke="#0a0a0a" stroke-width="2.3"/>
<text x="0" y="0" transform="translate(2932.0,722.5) scale(0.88,1.04)" fill="#0a0a0a" font-size="67">C</text>
<rect x="3049.6" y="695.8" width="36.6" height="8.4" rx="3.6" fill="#ff1a24"/>
<rect x="3119.9" y="695.8" width="36.9" height="8.4" rx="3.6" fill="#ff1a24"/>
<rect x="3189.7" y="695.8" width="20.7" height="8.4" rx="3.6" fill="#ff1a24"/>
<text x="3221.6" y="0" transform="translate(0,722.5) scale(1,1.04)" text-anchor="start" fill="#ff1a24" font-size="67" >200</text>
<circle cx="3356.0" cy="684.0" r="7.6" fill="none" stroke="#ff1a24" stroke-width="2.3"/>
<text x="0" y="0" transform="translate(3363.1,722.5) scale(0.88,1.04)" fill="#ff1a24" font-size="67">C</text>
<rect x="2657.5" y="778.2" width="13.0" height="8.4" rx="3.6" fill="#0535ee"/>
<rect x="2699.0" y="778.2" width="13.0" height="8.4" rx="3.6" fill="#0535ee"/>
<rect x="2740.0" y="778.2" width="13.0" height="8.4" rx="3.6" fill="#0535ee"/>
<rect x="2781.5" y="778.2" width="13.0" height="8.4" rx="3.6" fill="#0535ee"/>
<text x="2823.5" y="0" transform="translate(0,804.9) scale(1,1.04)" text-anchor="start" fill="#0535ee" font-size="67" >300</text>
<circle cx="2957.9" cy="766.4" r="7.6" fill="none" stroke="#0535ee" stroke-width="2.3"/>
<text x="0" y="0" transform="translate(2965.0,804.9) scale(0.88,1.04)" fill="#0535ee" font-size="67">C</text>
<rect x="3049.6" y="778.2" width="43.0" height="8.4" rx="3.6" fill="#9b3cff"/>
<rect x="3109.6" y="778.2" width="11.4" height="8.4" rx="3.6" fill="#9b3cff"/>
<rect x="3137.6" y="778.2" width="43.0" height="8.4" rx="3.6" fill="#9b3cff"/>
<rect x="3196.6" y="778.2" width="13.0" height="8.4" rx="3.6" fill="#9b3cff"/>
<text x="3221.6" y="0" transform="translate(0,804.9) scale(1,1.04)" text-anchor="start" fill="#9b3cff" font-size="67" >400</text>
<circle cx="3356.0" cy="766.4" r="7.6" fill="none" stroke="#9b3cff" stroke-width="2.3"/>
<text x="0" y="0" transform="translate(3363.1,804.9) scale(0.88,1.04)" fill="#9b3cff" font-size="67">C</text>
<rect x="2658.5" y="860.6" width="33.0" height="8.4" rx="3.6" fill="#2f8606"/>
<rect x="2707.5" y="860.6" width="12.0" height="8.4" rx="3.6" fill="#2f8606"/>
<rect x="2736.5" y="860.6" width="10.0" height="8.4" rx="3.6" fill="#2f8606"/>
<rect x="2762.5" y="860.6" width="34.0" height="8.4" rx="3.6" fill="#2f8606"/>
<text x="2823.5" y="0" transform="translate(0,887.3) scale(1,1.04)" text-anchor="start" fill="#2f8606" font-size="67" >500</text>
<circle cx="2957.9" cy="848.8" r="7.6" fill="none" stroke="#2f8606" stroke-width="2.3"/>
<text x="0" y="0" transform="translate(2965.0,887.3) scale(0.88,1.04)" fill="#2f8606" font-size="67">C</text>
<rect x="3049.6" y="860.6" width="18.6" height="8.4" rx="3.6" fill="#000b58"/>
<rect x="3080.6" y="860.6" width="18.4" height="8.4" rx="3.6" fill="#000b58"/>
<rect x="3114.0" y="860.6" width="17.6" height="8.4" rx="3.6" fill="#000b58"/>
<rect x="3144.6" y="860.6" width="18.6" height="8.4" rx="3.6" fill="#000b58"/>
<rect x="3176.4" y="860.6" width="18.2" height="8.4" rx="3.6" fill="#000b58"/>
<text x="3221.6" y="0" transform="translate(0,887.3) scale(1,1.04)" text-anchor="start" fill="#000b58" font-size="67" >600</text>
<circle cx="3356.0" cy="848.8" r="7.6" fill="none" stroke="#000b58" stroke-width="2.3"/>
<text x="0" y="0" transform="translate(3363.1,887.3) scale(0.88,1.04)" fill="#000b58" font-size="67">C</text>
<rect x="2657.7" y="943.0" width="8.0" height="8.4" rx="3.6" fill="#2424ff"/>
<rect x="2671.6" y="943.0" width="8.0" height="8.4" rx="3.6" fill="#2424ff"/>
<rect x="2685.5" y="943.0" width="8.0" height="8.4" rx="3.6" fill="#2424ff"/>
<rect x="2699.4" y="943.0" width="8.0" height="8.4" rx="3.6" fill="#2424ff"/>
<rect x="2713.3" y="943.0" width="8.0" height="8.4" rx="3.6" fill="#2424ff"/>
<rect x="2727.2" y="943.0" width="8.0" height="8.4" rx="3.6" fill="#2424ff"/>
<rect x="2741.1" y="943.0" width="8.0" height="8.4" rx="3.6" fill="#2424ff"/>
<rect x="2755.0" y="943.0" width="8.0" height="8.4" rx="3.6" fill="#2424ff"/>
<rect x="2768.9" y="943.0" width="8.0" height="8.4" rx="3.6" fill="#2424ff"/>
<rect x="2782.8" y="943.0" width="8.0" height="8.4" rx="3.6" fill="#2424ff"/>
<rect x="2796.7" y="943.0" width="8.0" height="8.4" rx="3.6" fill="#2424ff"/>
<text x="2823.5" y="0" transform="translate(0,969.7) scale(1,1.04)" text-anchor="start" fill="#2424ff" font-size="67" >700</text>
<circle cx="2957.9" cy="931.2" r="7.6" fill="none" stroke="#2424ff" stroke-width="2.3"/>
<text x="0" y="0" transform="translate(2965.0,969.7) scale(0.88,1.04)" fill="#2424ff" font-size="67">C</text>
<rect x="3049.6" y="943.0" width="28.0" height="8.4" rx="3.6" fill="#4204d6"/>
<rect x="3087.6" y="943.0" width="8.0" height="8.4" rx="3.6" fill="#4204d6"/>
<rect x="3105.2" y="943.0" width="28.1" height="8.4" rx="3.6" fill="#4204d6"/>
<rect x="3143.0" y="943.0" width="7.9" height="8.4" rx="3.6" fill="#4204d6"/>
<rect x="3160.6" y="943.0" width="28.0" height="8.4" rx="3.6" fill="#4204d6"/>
<rect x="3198.4" y="943.0" width="7.9" height="8.4" rx="3.6" fill="#4204d6"/>
<text x="3221.6" y="0" transform="translate(0,969.7) scale(1,1.04)" text-anchor="start" fill="#4204d6" font-size="67" >800</text>
<circle cx="3356.0" cy="931.2" r="7.6" fill="none" stroke="#4204d6" stroke-width="2.3"/>
<text x="0" y="0" transform="translate(3363.1,969.7) scale(0.88,1.04)" fill="#4204d6" font-size="67">C</text>
<text x="0" y="0" transform="translate(812,1316.5) scale(1,1.04)" fill="#0a0a0a" font-size="67">(a) <tspan font-style="italic">ε</tspan>=1 000 s<tspan dy="-23.5" font-size="35">−1</tspan></text>
<text x="0" y="0" transform="translate(2523,1316.5) scale(1,1.04)" fill="#0a0a0a" font-size="67">(b) <tspan font-style="italic">ε</tspan>=4 000 s<tspan dy="-23.5" font-size="35">−1</tspan></text>
<circle cx="920.7" cy="1271.6" r="4" fill="#0a0a0a"/>
<circle cx="2636" cy="1271.2" r="4" fill="#0a0a0a"/>
</svg>
</body></html>
